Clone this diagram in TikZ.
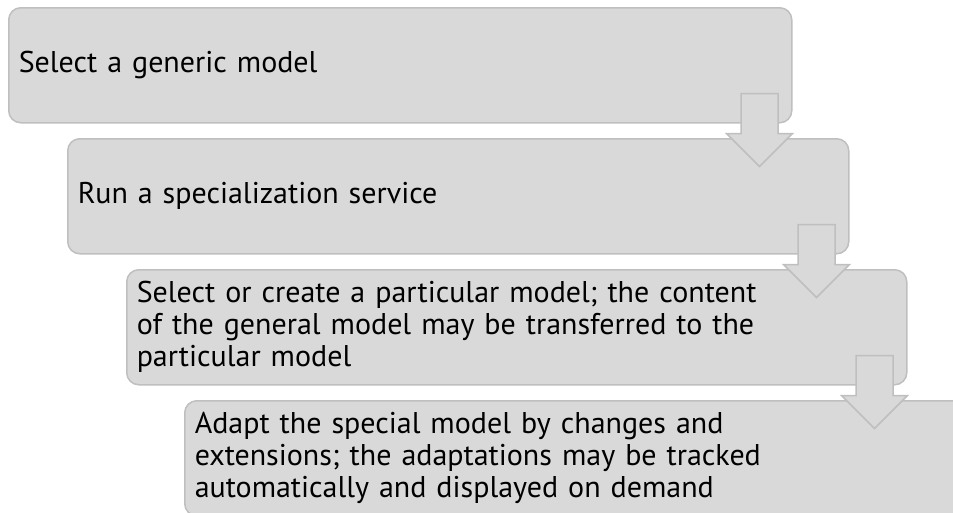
\documentclass[tikz,border=0pt]{standalone}
\usepackage{fontspec}
\setmainfont{PT Sans}
\usetikzlibrary{calc}
\definecolor{boxfill}{HTML}{D9D9D9}
\definecolor{boxline}{HTML}{BFBFBF}
\tikzset{
  stepbox/.style={draw=boxline, fill=boxfill, line width=1.5pt, rounded corners=12pt,
    minimum height=115pt, inner xsep=10pt, inner ysep=0pt, align=left,
    anchor=north west, font=\fontsize{30}{32}\selectfont, text=black},
  flowarrow/.style={draw=boxline, fill=boxfill, line width=1.5pt, line join=miter}
}
% block arrow hanging from the lower right corner of a box
\newcommand\flowdown[1]{%
  \draw[flowarrow] ([shift={(-51.5,-30)}]#1.south east) -- ++(37,0) -- ++(0,40)
    -- ++(14.5,0) -- ++(-33,33) -- ++(-33,-33) -- ++(14.5,0) -- cycle;}
\begin{document}
\begin{tikzpicture}[x=1pt,y=-1pt]
  \useasboundingbox (0,0) rectangle (953,512);
  \clip (0,0) rectangle (953,512);
  \node[stepbox, minimum width=783pt, text width=763pt] (b1) at (8,7)
    {Select a generic model};
  \node[stepbox, minimum width=781pt, text width=761pt] (b2) at (67,138)
    {Run a specialization service};
  \node[stepbox, minimum width=780pt, text width=760pt] (b3) at (126,269)
    {Select or create a particular model; the content\\of the general model may be transferred to the\\particular model};
  \node[stepbox, minimum width=780pt, text width=760pt] (b4) at (184,400)
    {Adapt the special model by changes and\\extensions; the adaptations may be tracked\\automatically and displayed on demand};
  \flowdown{b1}
  \flowdown{b2}
  \flowdown{b3}
\end{tikzpicture}
\end{document}
